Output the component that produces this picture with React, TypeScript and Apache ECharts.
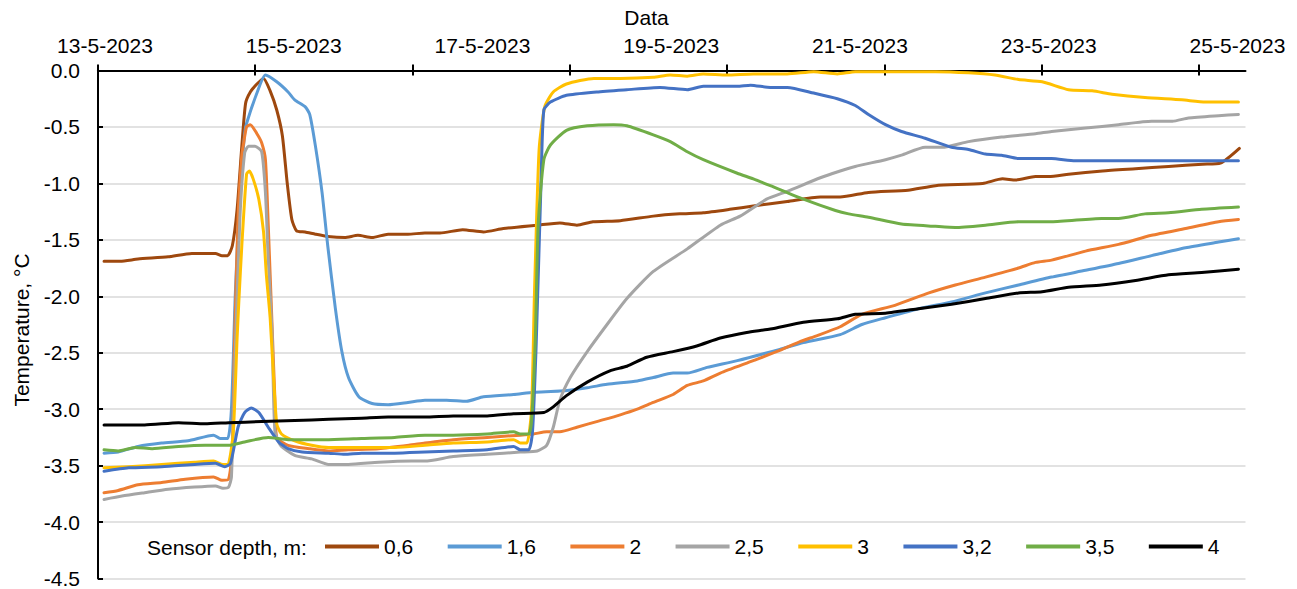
import React, { useEffect, useRef } from "react";
import * as echarts from "echarts";

const FONT = "'Liberation Sans', Arial, sans-serif";
const FS = 21;

const depthNames = ["0,6", "1,6", "2", "2,5", "3", "3,2", "3,5", "4"];
const depthColors = ["#9E480E", "#5B9BD5", "#ED7D31", "#A5A5A5", "#FFC000", "#4472C4", "#70AD47", "#000000"];

// x values are days counted from 13-5-2023
const labelDays = [0, 2, 4, 6, 8, 10, 12];
const labelTexts = ["13-5-2023", "15-5-2023", "17-5-2023", "19-5-2023", "21-5-2023", "23-5-2023", "25-5-2023"];
const tickDays = [-0.074, 1.592, 3.259, 4.926, 6.592, 8.259, 9.926, 11.592];
const xMin = -0.074;
const xMax = 12.085;

const s06 = [[-0.01,-1.69],[0.16,-1.69],[0.35,-1.67],[0.67,-1.65],[0.92,-1.62],[1.17,-1.62],[1.24,-1.64],[1.30,-1.64],[1.35,-1.55],[1.40,-1.23],[1.45,-0.67],[1.49,-0.29],[1.54,-0.19],[1.61,-0.12],[1.68,-0.07],[1.75,-0.18],[1.82,-0.35],[1.88,-0.58],[1.93,-0.99],[1.98,-1.32],[2.03,-1.42],[2.12,-1.43],[2.23,-1.45],[2.36,-1.47],[2.54,-1.48],[2.68,-1.46],[2.83,-1.48],[3.00,-1.45],[3.21,-1.45],[3.39,-1.44],[3.55,-1.44],[3.79,-1.41],[4.01,-1.43],[4.22,-1.40],[4.58,-1.37],[4.82,-1.35],[5.00,-1.37],[5.17,-1.34],[5.46,-1.33],[5.81,-1.29],[6.09,-1.27],[6.34,-1.26],[6.62,-1.23],[6.87,-1.20],[7.23,-1.16],[7.58,-1.12],[7.79,-1.12],[8.09,-1.08],[8.51,-1.06],[8.80,-1.02],[9.30,-1.00],[9.51,-0.96],[9.65,-0.97],[9.86,-0.94],[10.00,-0.94],[10.21,-0.92],[10.57,-0.89],[10.92,-0.87],[11.27,-0.85],[11.63,-0.83],[11.82,-0.82],[12.02,-0.69]];
const s16 = [[-0.01,-3.39],[0.14,-3.38],[0.35,-3.33],[0.60,-3.30],[0.88,-3.28],[1.15,-3.23],[1.22,-3.26],[1.30,-3.26],[1.34,-3.00],[1.38,-2.00],[1.43,-1.08],[1.48,-0.56],[1.50,-0.47],[1.61,-0.20],[1.70,-0.04],[1.82,-0.10],[1.94,-0.19],[2.01,-0.26],[2.12,-0.32],[2.17,-0.39],[2.23,-0.67],[2.30,-1.08],[2.36,-1.55],[2.44,-2.10],[2.51,-2.49],[2.58,-2.72],[2.69,-2.89],[2.83,-2.95],[3.00,-2.96],[3.21,-2.94],[3.39,-2.92],[3.62,-2.92],[3.83,-2.93],[4.01,-2.89],[4.33,-2.87],[4.54,-2.85],[4.82,-2.84],[5.11,-2.81],[5.32,-2.78],[5.64,-2.75],[5.81,-2.72],[6.02,-2.68],[6.17,-2.68],[6.38,-2.63],[6.70,-2.57],[7.15,-2.47],[7.40,-2.41],[7.79,-2.34],[8.02,-2.25],[8.27,-2.19],[8.62,-2.11],[8.97,-2.05],[9.33,-1.97],[9.68,-1.90],[10.03,-1.83],[10.39,-1.77],[10.74,-1.71],[11.09,-1.64],[11.45,-1.57],[11.80,-1.52],[12.01,-1.49]];
const s2 = [[-0.01,-3.74],[0.14,-3.72],[0.35,-3.67],[0.60,-3.65],[0.85,-3.62],[1.15,-3.60],[1.24,-3.63],[1.31,-3.62],[1.35,-3.30],[1.37,-2.50],[1.41,-1.30],[1.45,-0.75],[1.47,-0.64],[1.50,-0.50],[1.54,-0.48],[1.61,-0.56],[1.66,-0.64],[1.70,-0.79],[1.73,-1.37],[1.77,-2.25],[1.80,-2.90],[1.82,-3.25],[1.94,-3.32],[2.16,-3.35],[2.37,-3.37],[2.58,-3.36],[2.90,-3.35],[3.22,-3.32],[3.39,-3.30],[3.69,-3.27],[4.05,-3.25],[4.40,-3.23],[4.54,-3.22],[4.68,-3.20],[4.82,-3.20],[5.00,-3.16],[5.21,-3.11],[5.46,-3.05],[5.64,-3.00],[5.81,-2.94],[6.02,-2.87],[6.17,-2.79],[6.34,-2.75],[6.52,-2.68],[6.87,-2.57],[7.15,-2.48],[7.37,-2.40],[7.54,-2.35],[7.79,-2.27],[8.02,-2.16],[8.37,-2.08],[8.73,-1.97],[9.01,-1.90],[9.33,-1.83],[9.68,-1.75],[9.86,-1.70],[10.03,-1.68],[10.39,-1.60],[10.74,-1.54],[11.09,-1.46],[11.45,-1.40],[11.80,-1.34],[12.01,-1.32]];
const s25 = [[-0.01,-3.80],[0.18,-3.77],[0.42,-3.74],[0.67,-3.71],[0.95,-3.69],[1.17,-3.68],[1.25,-3.70],[1.31,-3.69],[1.34,-3.60],[1.38,-2.50],[1.43,-1.30],[1.48,-0.73],[1.52,-0.67],[1.59,-0.67],[1.66,-0.72],[1.70,-1.08],[1.73,-1.67],[1.77,-2.31],[1.80,-3.19],[1.86,-3.32],[2.01,-3.41],[2.19,-3.44],[2.37,-3.49],[2.58,-3.49],[2.90,-3.47],[3.25,-3.46],[3.39,-3.46],[3.69,-3.42],[4.05,-3.40],[4.40,-3.38],[4.58,-3.37],[4.68,-3.32],[4.75,-3.16],[4.82,-2.92],[4.93,-2.72],[5.11,-2.49],[5.32,-2.25],[5.53,-2.02],[5.81,-1.78],[6.17,-1.58],[6.52,-1.37],[6.73,-1.29],[7.01,-1.14],[7.23,-1.07],[7.58,-0.95],[7.79,-0.89],[7.95,-0.85],[8.27,-0.79],[8.44,-0.75],[8.69,-0.68],[8.87,-0.68],[9.15,-0.63],[9.50,-0.59],[9.86,-0.56],[10.03,-0.54],[10.39,-0.51],[10.74,-0.48],[11.09,-0.45],[11.31,-0.45],[11.48,-0.42],[11.80,-0.40],[12.01,-0.39]];
const s3 = [[-0.01,-3.52],[0.25,-3.51],[0.60,-3.49],[0.95,-3.47],[1.15,-3.46],[1.25,-3.49],[1.31,-3.48],[1.36,-3.20],[1.40,-2.37],[1.42,-2.02],[1.45,-1.55],[1.50,-0.92],[1.53,-0.89],[1.57,-0.96],[1.63,-1.14],[1.68,-1.43],[1.71,-1.81],[1.75,-2.19],[1.78,-2.63],[1.82,-3.13],[1.87,-3.22],[2.01,-3.28],[2.19,-3.32],[2.37,-3.34],[2.72,-3.34],[3.07,-3.34],[3.39,-3.32],[3.69,-3.30],[4.05,-3.29],[4.33,-3.27],[4.40,-3.30],[4.47,-3.30],[4.52,-3.00],[4.55,-2.00],[4.60,-0.70],[4.66,-0.32],[4.75,-0.19],[4.89,-0.12],[5.18,-0.07],[5.46,-0.07],[5.81,-0.06],[5.99,-0.04],[6.17,-0.05],[6.34,-0.03],[6.59,-0.04],[6.87,-0.03],[7.23,-0.03],[7.51,-0.01],[7.76,-0.03],[7.95,-0.01],[8.44,-0.01],[8.80,-0.01],[9.15,-0.02],[9.43,-0.04],[9.68,-0.08],[9.93,-0.10],[10.21,-0.17],[10.46,-0.18],[10.67,-0.21],[11.02,-0.24],[11.41,-0.26],[11.66,-0.28],[12.01,-0.28]];
const s32 = [[-0.01,-3.55],[0.25,-3.52],[0.60,-3.51],[0.95,-3.49],[1.17,-3.48],[1.27,-3.51],[1.33,-3.48],[1.41,-3.16],[1.48,-3.03],[1.55,-2.99],[1.63,-3.03],[1.73,-3.16],[1.84,-3.29],[1.94,-3.35],[2.09,-3.38],[2.37,-3.39],[2.54,-3.40],[2.72,-3.39],[3.07,-3.39],[3.39,-3.38],[3.69,-3.37],[4.05,-3.36],[4.33,-3.33],[4.40,-3.36],[4.49,-3.36],[4.53,-3.20],[4.57,-2.40],[4.62,-1.00],[4.65,-0.35],[4.72,-0.28],[4.89,-0.22],[5.21,-0.19],[5.53,-0.17],[5.88,-0.15],[6.17,-0.17],[6.34,-0.14],[6.70,-0.14],[6.84,-0.13],[7.05,-0.15],[7.23,-0.15],[7.51,-0.20],[7.76,-0.25],[7.95,-0.31],[8.09,-0.39],[8.27,-0.48],[8.44,-0.54],[8.69,-0.60],[8.97,-0.68],[9.15,-0.70],[9.33,-0.74],[9.50,-0.75],[9.68,-0.78],[10.03,-0.78],[10.28,-0.80],[10.56,-0.80],[10.74,-0.80],[10.99,-0.80],[11.20,-0.80],[11.34,-0.80],[12.01,-0.80]];
const s35 = [[-0.01,-3.36],[0.14,-3.37],[0.32,-3.34],[0.50,-3.35],[0.78,-3.33],[1.06,-3.32],[1.31,-3.32],[1.48,-3.29],[1.73,-3.25],[1.94,-3.27],[2.37,-3.27],[2.72,-3.26],[3.07,-3.25],[3.39,-3.23],[3.69,-3.23],[4.05,-3.22],[4.33,-3.20],[4.40,-3.22],[4.49,-3.22],[4.52,-3.10],[4.56,-2.37],[4.59,-1.37],[4.65,-0.79],[4.72,-0.66],[4.89,-0.53],[5.11,-0.49],[5.39,-0.48],[5.53,-0.49],[5.81,-0.57],[5.99,-0.63],[6.17,-0.72],[6.34,-0.79],[6.70,-0.91],[6.87,-0.96],[7.05,-1.02],[7.40,-1.14],[7.74,-1.24],[7.88,-1.27],[8.09,-1.30],[8.44,-1.36],[8.80,-1.38],[9.01,-1.39],[9.33,-1.37],[9.68,-1.34],[10.03,-1.34],[10.56,-1.31],[10.74,-1.31],[11.02,-1.27],[11.27,-1.26],[11.62,-1.23],[12.01,-1.21]];
const s4 = [[-0.01,-3.14],[0.42,-3.14],[0.78,-3.12],[1.06,-3.13],[1.31,-3.12],[1.66,-3.11],[2.01,-3.10],[2.37,-3.09],[2.72,-3.08],[3.00,-3.07],[3.39,-3.07],[3.69,-3.06],[4.05,-3.06],[4.33,-3.04],[4.65,-3.03],[4.75,-2.98],[4.89,-2.88],[5.11,-2.76],[5.35,-2.66],[5.53,-2.62],[5.74,-2.54],[6.02,-2.49],[6.27,-2.44],[6.52,-2.37],[6.80,-2.32],[7.05,-2.29],[7.40,-2.23],[7.76,-2.20],[7.95,-2.16],[8.27,-2.15],[8.62,-2.11],[8.97,-2.07],[9.33,-2.02],[9.68,-1.97],[9.93,-1.96],[10.21,-1.92],[10.56,-1.90],[10.92,-1.86],[11.27,-1.81],[11.62,-1.79],[12.01,-1.76]];

const seriesData = [s06, s16, s2, s25, s3, s32, s35, s4];

export default function App() {
  const ref = useRef<HTMLDivElement>(null);
  useEffect(() => {
    document.body.style.margin = "0";
    if (!ref.current) return;
    const chart = echarts.init(ref.current, undefined, { renderer: "svg" });
    const axisCommon = {
      type: "value" as const,
      min: xMin,
      max: xMax,
      position: "top" as const,
    };
    chart.setOption({
      animation: false,
      textStyle: { fontFamily: FONT },
      grid: { left: 98, right: 51.5, top: 70.5, bottom: 7.5, containLabel: false },
      xAxis: [
        {
          ...axisCommon,
          axisLine: { show: true, onZero: false, lineStyle: { color: "#000", width: 2 } },
          axisTick: { show: true, customValues: tickDays, length: 6, inside: false, lineStyle: { color: "#000", width: 2 } },
          axisLabel: {
            customValues: labelDays,
            fontSize: FS,
            color: "#000",
            fontFamily: FONT,
            margin: 15,
            formatter: (v: number) => {
              const i = labelDays.indexOf(Math.round(v));
              return i >= 0 ? labelTexts[i] : "";
            },
          },
          splitLine: { show: false },
        },
        {
          ...axisCommon,
          axisLine: { show: false, onZero: false },
          axisTick: { show: true, customValues: tickDays, length: 5, inside: true, lineStyle: { color: "#000", width: 2 } },
          axisLabel: { show: false },
          splitLine: { show: false },
        },
      ],
      yAxis: {
        type: "value",
        min: -4.5,
        max: 0,
        interval: 0.5,
        axisLine: { show: true, onZero: false, lineStyle: { color: "#000", width: 2 } },
        axisTick: { show: true, inside: true, length: 5, lineStyle: { color: "#000", width: 2 } },
        axisLabel: {
          fontSize: FS,
          color: "#000",
          fontFamily: FONT,
          margin: 18,
          formatter: (v: number) => v.toFixed(1),
        },
        splitLine: { show: true, lineStyle: { color: "#D9D9D9", width: 1.5 } },
      },
      legend: {
        data: depthNames,
        left: 325,
        top: 536,
        padding: 0,
        icon: "rect",
        itemWidth: 54,
        itemHeight: 4,
        itemGap: 34.5,
        textStyle: { fontSize: FS, color: "#000", fontFamily: FONT },
      },
      graphic: [
        {
          type: "text",
          x: 646.5,
          y: 17,
          style: { text: "Data", font: `${FS}px ${FONT}`, fill: "#000", textAlign: "center", textVerticalAlign: "middle" },
        },
        {
          type: "text",
          x: 21,
          y: 330,
          rotation: Math.PI / 2,
          style: { text: "Temperature, °C", font: `${FS}px ${FONT}`, fill: "#000", textAlign: "center", textVerticalAlign: "middle" },
        },
        {
          type: "text",
          x: 147,
          y: 547,
          style: { text: "Sensor depth, m:", font: `${FS}px ${FONT}`, fill: "#000", textAlign: "left", textVerticalAlign: "middle" },
        },
      ],
      series: depthNames.map((name, i) => ({
        name,
        type: "line",
        xAxisIndex: 0,
        data: seriesData[i],
        symbol: "none",
        showSymbol: false,
        smooth: 0.2,
        color: depthColors[i],
        itemStyle: { color: depthColors[i] },
        lineStyle: { color: depthColors[i], width: 3, cap: "round", join: "round" },
      })),
    });
    return () => chart.dispose();
  }, []);
  return <div ref={ref} style={{ width: 1297, height: 589 }} />;
}
